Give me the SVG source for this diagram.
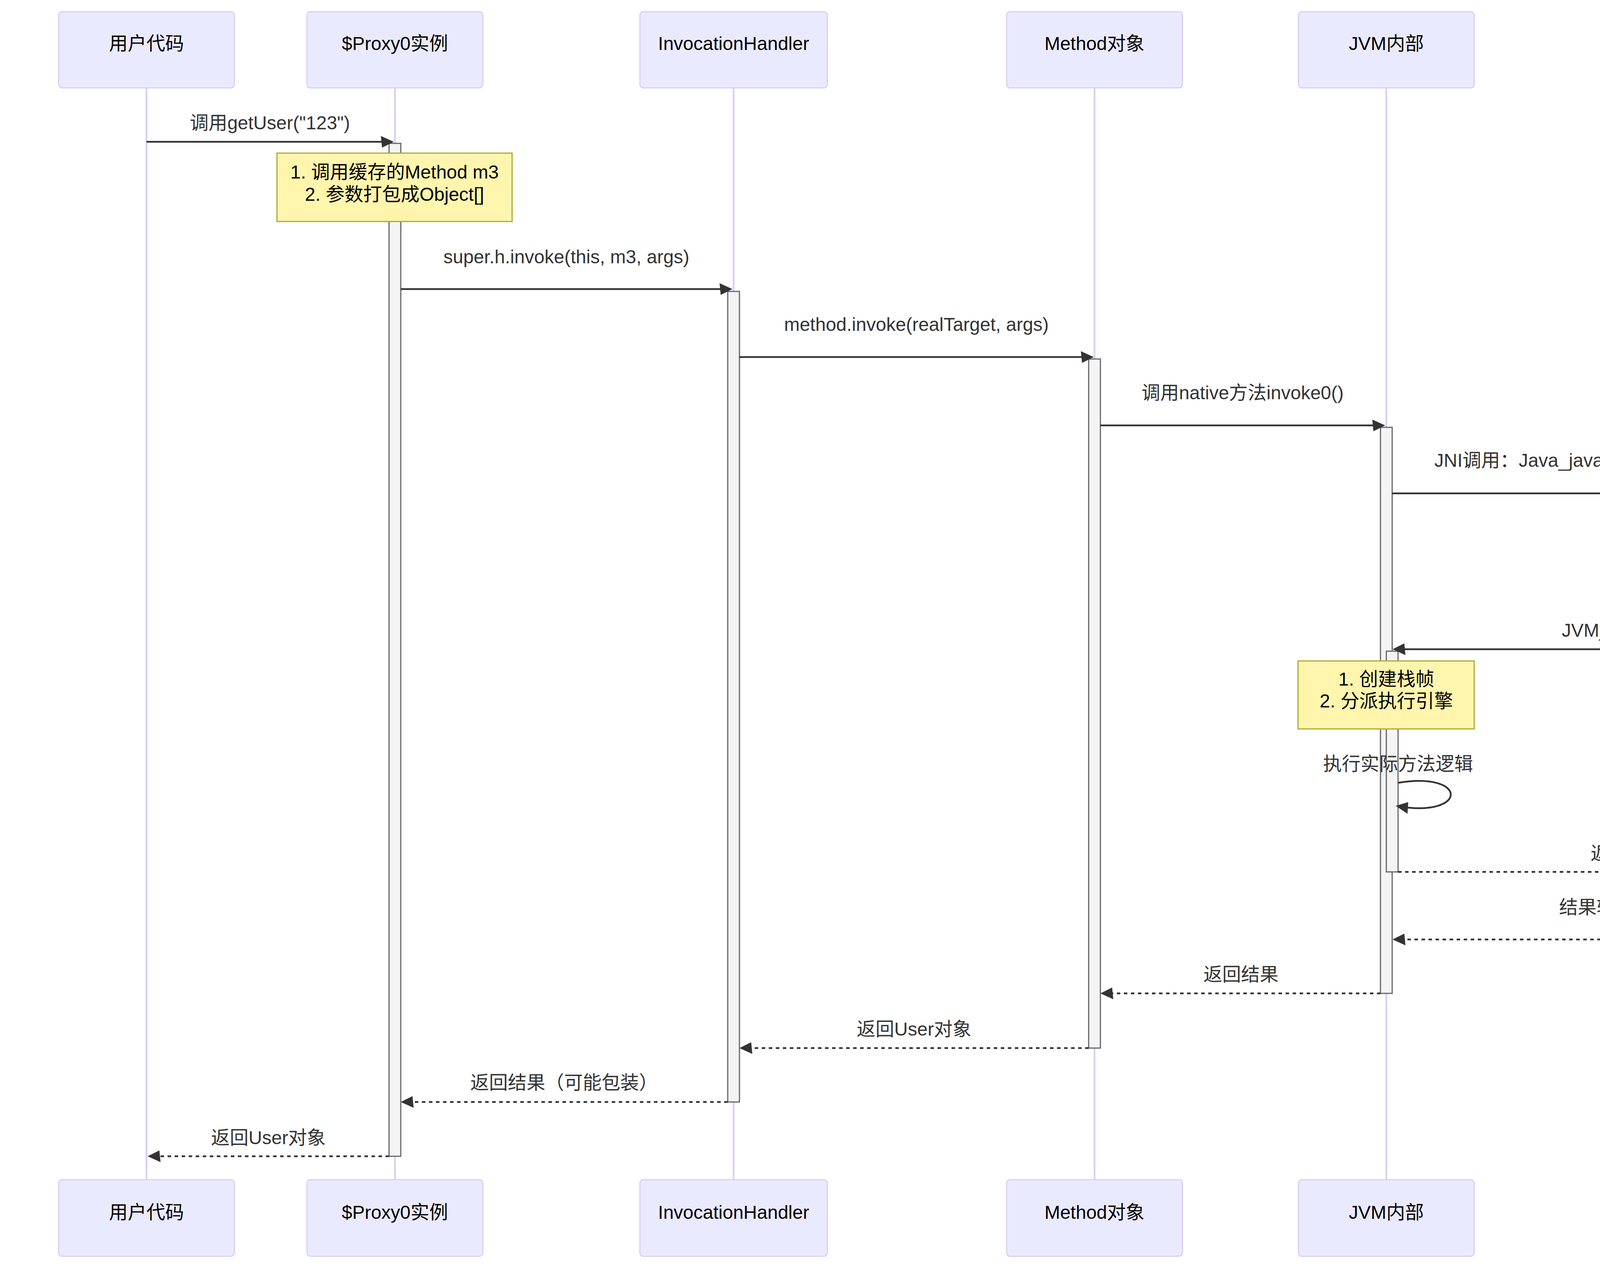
<svg xmlns="http://www.w3.org/2000/svg" width="5266" height="3246" viewBox="0 0 5266 3246">
<style>
.actor{fill:#eaeaff;stroke:hsl(259.6,59.8%,87.9%);stroke-width:3}
.lifeline{stroke:hsl(259.6,59.8%,87.9%);stroke-width:4.5}
.act{fill:#f4f4f4;stroke:#666;stroke-width:3}
.note{fill:#fff5ad;stroke:#aaaa33;stroke-width:3}
.msg{stroke:#333;stroke-width:4.5;fill:none;marker-end:url(#arrow)}
.dash{stroke-dasharray:9,9}
text{font-family:"Liberation Sans","Noto Sans CJK SC",sans-serif;font-size:48px;text-anchor:middle}
.atext{fill:#000}
.mtext{fill:#333}
.ntext{fill:#000}
</style>
<defs>
<marker id="arrow" markerUnits="userSpaceOnUse" markerWidth="36" markerHeight="36" refX="24" refY="15" orient="auto" overflow="visible">
<path d="M -3 0 L 30 15 L 0 30 z" fill="#333"/>
</marker>
</defs>
<rect width="5266" height="3246" fill="#ffffff"/>
<g id="lifelines">
<line class="lifeline" x1="375" y1="225" x2="375" y2="3020"/>
<line class="lifeline" x1="1011" y1="225" x2="1011" y2="3020"/>
<line class="lifeline" x1="1878" y1="225" x2="1878" y2="3020"/>
<line class="lifeline" x1="2802" y1="225" x2="2802" y2="3020"/>
<line class="lifeline" x1="3549" y1="225" x2="3549" y2="3020"/>
<line class="lifeline" x1="4869" y1="225" x2="4869" y2="3020"/>
</g>
<g id="actor-user">
<rect class="actor" x="150" y="30" width="450" height="195" rx="9"/>
<text class="atext" x="375" y="128">用户代码</text>
<rect class="actor" x="150" y="3020" width="450" height="196" rx="9"/>
<text class="atext" x="375" y="3120">用户代码</text>
</g>
<g id="actor-proxy">
<rect class="actor" x="786" y="30" width="450" height="195" rx="9"/>
<text class="atext" x="1011" y="128">$Proxy0实例</text>
<rect class="actor" x="786" y="3020" width="450" height="196" rx="9"/>
<text class="atext" x="1011" y="3120">$Proxy0实例</text>
</g>
<g id="actor-handler">
<rect class="actor" x="1638" y="30" width="480" height="195" rx="9"/>
<text class="atext" x="1878" y="128">InvocationHandler</text>
<rect class="actor" x="1638" y="3020" width="480" height="196" rx="9"/>
<text class="atext" x="1878" y="3120">InvocationHandler</text>
</g>
<g id="actor-method">
<rect class="actor" x="2577" y="30" width="450" height="195" rx="9"/>
<text class="atext" x="2802" y="128">Method对象</text>
<rect class="actor" x="2577" y="3020" width="450" height="196" rx="9"/>
<text class="atext" x="2802" y="3120">Method对象</text>
</g>
<g id="actor-jvm">
<rect class="actor" x="3324" y="30" width="450" height="195" rx="9"/>
<text class="atext" x="3549" y="128">JVM内部</text>
<rect class="actor" x="3324" y="3020" width="450" height="196" rx="9"/>
<text class="atext" x="3549" y="3120">JVM内部</text>
</g>
<g id="actor-native">
<rect class="actor" x="4644" y="30" width="450" height="195" rx="9"/>
<text class="atext" x="4869" y="128">Native代码</text>
<rect class="actor" x="4644" y="3020" width="450" height="196" rx="9"/>
<text class="atext" x="4869" y="3120">Native代码</text>
</g>
<g id="activations">
<rect class="act" x="996" y="367" width="30" height="2593"/>
<rect class="act" x="1863" y="746" width="30" height="2075"/>
<rect class="act" x="2787" y="919" width="30" height="1764"/>
<rect class="act" x="3534" y="1094" width="30" height="1449"/>
<rect class="act" x="4854" y="1268" width="30" height="1137"/>
<rect class="act" x="3549" y="1667" width="30" height="565"/>
</g>
<g id="connectors">
<line class="msg" x1="375" y1="363" x2="1002" y2="363"/>
<line class="msg" x1="1026" y1="740" x2="1869" y2="740"/>
<line class="msg" x1="1893" y1="914" x2="2794" y2="914"/>
<line class="msg" x1="2817" y1="1089" x2="3540" y2="1089"/>
<line class="msg" x1="3564" y1="1263" x2="4860" y2="1263"/>
<line class="msg" x1="4854" y1="1662" x2="3571" y2="1662"/>
<path class="msg" d="M 3579 2004 C 3759 1974 3759 2094 3579 2064"/>
<line class="msg dash" x1="3579" y1="2232" x2="4848" y2="2232"/>
<line class="msg dash" x1="4854" y1="2405" x2="3571" y2="2405"/>
<line class="msg dash" x1="3534" y1="2543" x2="2823" y2="2543"/>
<line class="msg dash" x1="2787" y1="2683" x2="1899" y2="2683"/>
<line class="msg dash" x1="1863" y1="2821" x2="1032" y2="2821"/>
<line class="msg dash" x1="996" y1="2960" x2="384" y2="2960"/>
</g>
<g id="message-labels">
<text class="mtext" x="691" y="331">调用getUser("123")</text>
<text class="mtext" x="1450" y="674">super.h.invoke(this, m3, args)</text>
<text class="mtext" x="2346" y="847">method.invoke(realTarget, args)</text>
<text class="mtext" x="3181" y="1022">调用native方法invoke0()</text>
<text class="mtext" x="4215" y="1195">JNI调用：Java_java_lang_reflect_Method_invoke0</text>
<text class="mtext" x="4210" y="1630">JVM_InvokeMethod</text>
<text class="mtext" x="3579" y="1972">执行实际方法逻辑</text>
<text class="mtext" x="4216" y="2201">返回执行结果</text>
<text class="mtext" x="4210" y="2339">结果转换为Java对象</text>
<text class="mtext" x="3177" y="2511">返回结果</text>
<text class="mtext" x="2340" y="2651">返回User对象</text>
<text class="mtext" x="1444" y="2788">返回结果（可能包装）</text>
<text class="mtext" x="687" y="2929">返回User对象</text>
</g>
<g id="note-proxy">
<rect class="note" x="709" y="392" width="602" height="175"/>
<text class="ntext" x="1010" y="457">1. 调用缓存的Method m3</text>
<text class="ntext" x="1010" y="514">2. 参数打包成Object[]</text>
</g>
<g id="note-native">
<rect class="note" x="4621" y="1293" width="496" height="231"/>
<text class="ntext" x="4869" y="1357">1. 获取方法内部结构</text>
<text class="ntext" x="4869" y="1414">2. 参数类型转换</text>
<text class="ntext" x="4869" y="1471">3. 安全检查</text>
</g>
<g id="note-jvm">
<rect class="note" x="3323" y="1692" width="451" height="174"/>
<text class="ntext" x="3549" y="1755">1. 创建栈帧</text>
<text class="ntext" x="3549" y="1811">2. 分派执行引擎</text>
</g>
</svg>
